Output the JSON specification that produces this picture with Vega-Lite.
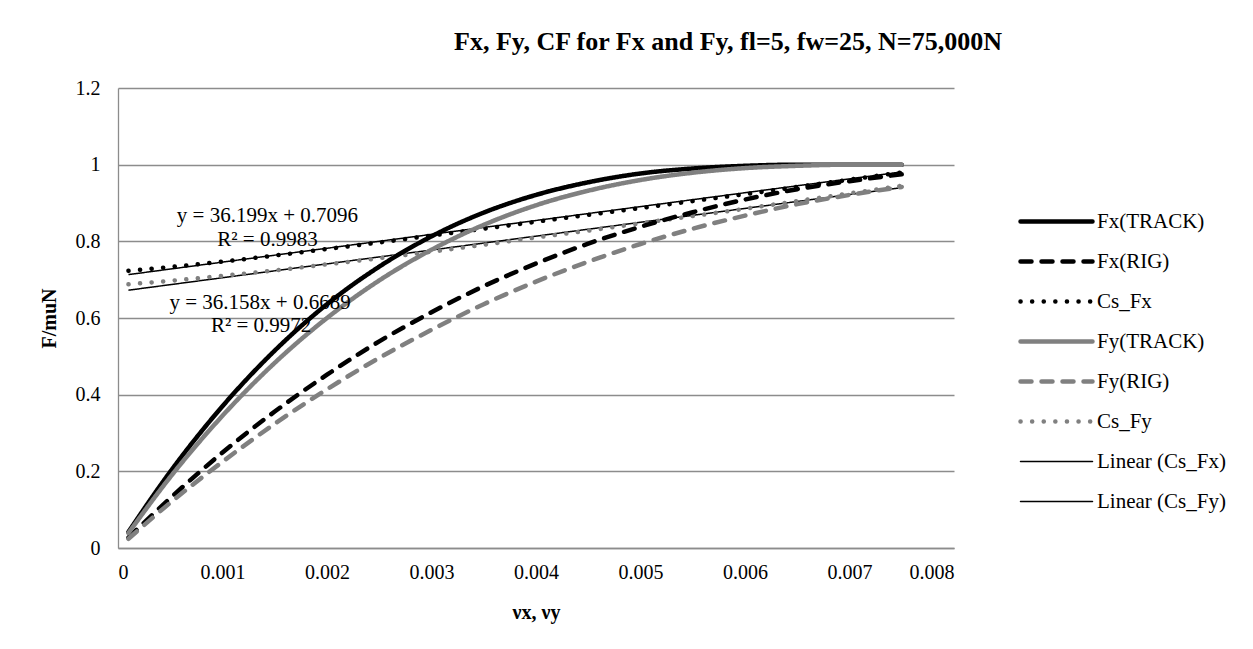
{
  "$schema": "https://vega.github.io/schema/vega-lite/v6.json",
  "autosize": {"type": "none"},
  "width": 836,
  "height": 460,
  "padding": {"left": 118, "top": 88, "right": 299, "bottom": 101},
  "background": "white",
  "config": {
    "view": {"stroke": null},
    "font": "Liberation Serif",
    "axis": {"labelFont": "Liberation Serif", "titleFont": "Liberation Serif", "labelColor": "black", "titleColor": "black", "labelFontSize": 20, "titleFontSize": 20, "gridColor": "#8c8c8c", "gridWidth": 1.3, "domainColor": "#8c8c8c", "domainWidth": 1.3, "ticks": false},
    "legend": {"title": null, "orient": "none", "legendX": 902, "legendY": 123, "symbolType": "stroke", "symbolSize": 5184, "symbolOffset": 26, "labelFont": "Liberation Serif", "labelFontSize": 21, "labelColor": "black", "labelOffset": 30, "rowPadding": 18}
  },
  "title": {"text": "Fx, Fy, CF for Fx and Fy, fl=5, fw=25, N=75,000N", "font": "Liberation Serif", "fontSize": 26, "fontWeight": "bold", "color": "black", "anchor": "middle", "dx": 192, "offset": 23},
  "datasets": {
    "curves": [
      {"x": 0.0001, "Fx(TRACK)": 0.042, "Fx(RIG)": 0.027, "Cs_Fx": 0.723, "Fy(TRACK)": 0.039, "Fy(RIG)": 0.024, "Cs_Fy": 0.688},
      {"x": 0.0005, "Fx(TRACK)": 0.199, "Fx(RIG)": 0.130, "Cs_Fx": 0.733, "Fy(TRACK)": 0.185, "Fy(RIG)": 0.118, "Cs_Fy": 0.697},
      {"x": 0.001, "Fx(TRACK)": 0.370, "Fx(RIG)": 0.249, "Cs_Fx": 0.747, "Fy(TRACK)": 0.345, "Fy(RIG)": 0.225, "Cs_Fy": 0.710},
      {"x": 0.0015, "Fx(TRACK)": 0.515, "Fx(RIG)": 0.356, "Cs_Fx": 0.763, "Fy(TRACK)": 0.483, "Fy(RIG)": 0.324, "Cs_Fy": 0.724},
      {"x": 0.002, "Fx(TRACK)": 0.636, "Fx(RIG)": 0.452, "Cs_Fx": 0.780, "Fy(TRACK)": 0.600, "Fy(RIG)": 0.414, "Cs_Fy": 0.740},
      {"x": 0.0025, "Fx(TRACK)": 0.734, "Fx(RIG)": 0.539, "Cs_Fx": 0.797, "Fy(TRACK)": 0.698, "Fy(RIG)": 0.496, "Cs_Fy": 0.756},
      {"x": 0.003, "Fx(TRACK)": 0.813, "Fx(RIG)": 0.615, "Cs_Fx": 0.815, "Fy(TRACK)": 0.778, "Fy(RIG)": 0.569, "Cs_Fy": 0.773},
      {"x": 0.0035, "Fx(TRACK)": 0.875, "Fx(RIG)": 0.683, "Cs_Fx": 0.833, "Fy(TRACK)": 0.843, "Fy(RIG)": 0.636, "Cs_Fy": 0.791},
      {"x": 0.004, "Fx(TRACK)": 0.921, "Fx(RIG)": 0.742, "Cs_Fx": 0.851, "Fy(TRACK)": 0.894, "Fy(RIG)": 0.695, "Cs_Fy": 0.810},
      {"x": 0.0045, "Fx(TRACK)": 0.954, "Fx(RIG)": 0.794, "Cs_Fx": 0.869, "Fy(TRACK)": 0.932, "Fy(RIG)": 0.747, "Cs_Fy": 0.828},
      {"x": 0.005, "Fx(TRACK)": 0.977, "Fx(RIG)": 0.838, "Cs_Fx": 0.887, "Fy(TRACK)": 0.960, "Fy(RIG)": 0.793, "Cs_Fy": 0.847},
      {"x": 0.0055, "Fx(TRACK)": 0.990, "Fx(RIG)": 0.876, "Cs_Fx": 0.905, "Fy(TRACK)": 0.979, "Fy(RIG)": 0.833, "Cs_Fy": 0.866},
      {"x": 0.006, "Fx(TRACK)": 0.997, "Fx(RIG)": 0.909, "Cs_Fx": 0.923, "Fy(TRACK)": 0.991, "Fy(RIG)": 0.867, "Cs_Fy": 0.885},
      {"x": 0.0065, "Fx(TRACK)": 1.000, "Fx(RIG)": 0.936, "Cs_Fx": 0.942, "Fy(TRACK)": 0.997, "Fy(RIG)": 0.897, "Cs_Fy": 0.905},
      {"x": 0.007, "Fx(TRACK)": 1.000, "Fx(RIG)": 0.957, "Cs_Fx": 0.961, "Fy(TRACK)": 1.000, "Fy(RIG)": 0.921, "Cs_Fy": 0.925},
      {"x": 0.0075, "Fx(TRACK)": 1.000, "Fx(RIG)": 0.975, "Cs_Fx": 0.980, "Fy(TRACK)": 1.000, "Fy(RIG)": 0.942, "Cs_Fy": 0.945}
    ],
    "trends": [
      {"x": 0.0001, "y": 0.7132, "series": "Linear (Cs_Fx)"},
      {"x": 0.0075, "y": 0.9811, "series": "Linear (Cs_Fx)"},
      {"x": 0.0001, "y": 0.6725, "series": "Linear (Cs_Fy)"},
      {"x": 0.0075, "y": 0.9401, "series": "Linear (Cs_Fy)"}
    ],
    "notes": [
      {"x": 0.00143, "y": 0.867, "label": "y = 36.199x + 0.7096"},
      {"x": 0.00143, "y": 0.803, "label": "R² = 0.9983"},
      {"x": 0.00136, "y": 0.640, "label": "y = 36.158x + 0.6689"},
      {"x": 0.00137, "y": 0.579, "label": "R² = 0.9972"}
    ]
  },
  "encoding": {
    "x": {"field": "x", "type": "quantitative", "scale": {"domain": [0, 0.008], "nice": false, "zero": false},
      "axis": {"values": [0, 0.001, 0.002, 0.003, 0.004, 0.005, 0.006, 0.007, 0.008], "format": "~g", "grid": false, "labelPadding": 14, "title": "νx, νy", "titleFontWeight": "bold", "titlePadding": 20}},
    "y": {"field": "y", "type": "quantitative", "scale": {"domain": [0, 1.2], "nice": false},
      "axis": {"values": [0, 0.2, 0.4, 0.6, 0.8, 1, 1.2], "format": "~g", "grid": true, "labelPadding": 18, "title": "F/muN", "titleFontWeight": "bold", "titlePadding": 16}}
  },
  "layer": [
    {
      "data": {"name": "trends"},
      "mark": {"type": "line", "strokeWidth": 1.5},
      "encoding": {
        "detail": {"field": "series"},
        "color": {"field": "series", "type": "nominal",
          "scale": {"domain": ["Fx(TRACK)", "Fx(RIG)", "Cs_Fx", "Fy(TRACK)", "Fy(RIG)", "Cs_Fy", "Linear (Cs_Fx)", "Linear (Cs_Fy)"],
                    "range": ["#000000", "#000000", "#000000", "#808080", "#808080", "#808080", "#000000", "#000000"]},
          "legend": {"encode": {"symbols": {"update": {"strokeCap": {"value": "round"}, "strokeWidth": {"signal": "datum.index >= 6 ? 1.5 : 4.5"}}}}}},
        "strokeDash": {"field": "series", "type": "nominal",
          "scale": {"domain": ["Fx(TRACK)", "Fx(RIG)", "Cs_Fx", "Fy(TRACK)", "Fy(RIG)", "Cs_Fy", "Linear (Cs_Fx)", "Linear (Cs_Fy)"],
                    "range": [[1, 0], [11, 10], [0.1, 11.5], [1, 0], [11, 10], [0.1, 11.5], [1, 0], [1, 0]]},
          "legend": {"encode": {"symbols": {"update": {"strokeCap": {"value": "round"}, "strokeWidth": {"signal": "datum.index >= 6 ? 1.5 : 4.5"}}}}}}
      }
    },
    {
      "data": {"name": "curves"},
      "transform": [{"fold": ["Cs_Fx", "Cs_Fy"], "as": ["series", "y"]}],
      "mark": {"type": "line", "interpolate": "monotone", "strokeCap": "round", "strokeJoin": "round", "strokeWidth": 4.5},
      "encoding": {
        "detail": {"field": "series"},
        "color": {"field": "series", "type": "nominal"},
        "strokeDash": {"field": "series", "type": "nominal"}
      }
    },
    {
      "data": {"name": "curves"},
      "transform": [{"fold": ["Fx(TRACK)", "Fx(RIG)", "Fy(TRACK)", "Fy(RIG)"], "as": ["series", "y"]}],
      "mark": {"type": "line", "interpolate": "monotone", "strokeCap": "round", "strokeJoin": "round", "strokeWidth": 4.5},
      "encoding": {
        "detail": {"field": "series"},
        "color": {"field": "series", "type": "nominal"},
        "strokeDash": {"field": "series", "type": "nominal"}
      }
    },
    {
      "data": {"name": "notes"},
      "mark": {"type": "text", "font": "Liberation Serif", "fontSize": 21, "align": "center", "baseline": "middle", "color": "black"},
      "encoding": {"text": {"field": "label"}}
    }
  ]
}
